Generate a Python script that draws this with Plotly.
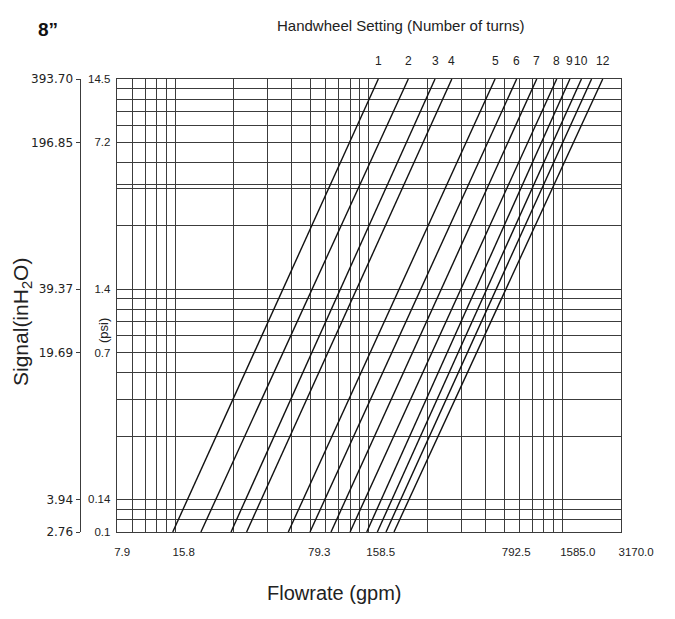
import math
import plotly.graph_objects as go

# ---------------- data ----------------
# underlying grid units: flow in L/s (x), signal in kPa (y)
turns = [1, 2, 3, 4, 5, 6, 7, 8, 9, 10, 11, 12]
turn_labels = ["1", "2", "3", "4", "5", "6", "7", "8", "9", "10", "", "12"]
signal_ends = [0.7, 100]                      # kPa at bottom / top of chart
flow_at_low = [0.973, 1.36, 1.945, 2.34, 3.84, 4.97, 6.38, 8.0, 9.75, 11.06, 12.26, 13.48]
flow_at_high = [11.19, 15.98, 21.95, 26.8, 44.8, 57.9, 73.5, 93.2, 109, 125, 141, 161]

grid_x = [0.5, 0.6, 0.7, 0.8, 0.9, 1, 2, 3, 4, 5, 6, 7, 8, 9, 10,
          20, 30, 40, 50, 60, 70, 80, 90, 100, 200]
grid_y = [0.7, 0.8, 0.9, 1, 2, 3, 4, 5, 6, 7, 8, 9, 10,
          20, 30, 31.5, 40, 50, 60, 70, 80, 90, 100]

x_tick_vals = [0.5, 1, 5, 10, 50, 100, 200]
x_tick_text = ["7.9", "15.8", "79.3", "158.5", "792.5", "1585.0", "3170.0"]

psi_vals = [100, 50, 10, 5, 1, 0.7]
psi_text = ["14.5", "7.2", "1.4", "0.7", "0.14", "0.1"]

inh2o_vals = [393.70, 196.85, 39.37, 19.69, 3.94, 2.76]
inh2o_text = ["393.70", "196.85", "39.37", "19.69", "3.94", "2.76"]

X_RANGE = (0.5, 200)
Y_RANGE = (0.7, 100)

# ---------------- figure ----------------
FONT = "Liberation Sans, Arial, sans-serif"
LINEC = "#3c3c3c"
TXT = "#222222"
fig = go.Figure()

for t, f0, f1 in zip(turns, flow_at_low, flow_at_high):
    fig.add_trace(go.Scatter(
        x=[f0, f1], y=signal_ends, mode="lines",
        line=dict(color="#111111", width=1.4),
        hoverinfo="skip", showlegend=False, name=f"turn {t}",
    ))

# invisible trace so the outer (inH2O) axis is drawn
fig.add_trace(go.Scatter(x=[1], y=[10], yaxis="y2",
                         mode="markers", marker=dict(opacity=0),
                         hoverinfo="skip", showlegend=False))

def tick_union(grid, vals, texts):
    lab = dict(zip(vals, texts))
    allv = sorted(set(grid) | set(vals))
    return allv, [lab.get(v, "") for v in allv]

xv, xt = tick_union(grid_x, x_tick_vals, x_tick_text)
yv, yt = tick_union(grid_y, psi_vals, psi_text)

eps = 1e-7
OFF = 8                      # page body margin
W, H = 675 - OFF, 619 - OFF
ML, MR, MT, MB = 2, 54, 71, 87
PW, PH = W - ML - MR, H - MT - MB

def px(xp):
    return (xp - OFF - ML) / PW

def py(yp):
    return (H - MB - (yp - OFF)) / PH

fig.update_layout(
    width=W, height=H,
    margin=dict(l=ML, r=MR, t=MT, b=MB, autoexpand=False),
    paper_bgcolor="white", plot_bgcolor="white",
    font=dict(family=FONT, color=TXT, size=11),
    xaxis=dict(
        type="log", domain=[px(116.7), 1],
        range=[math.log10(X_RANGE[0]) - eps, math.log10(X_RANGE[1]) + eps],
        tickmode="array", tickvals=xv, ticktext=xt,
        ticks="", showgrid=True, gridcolor=LINEC, gridwidth=1,
        showline=True, mirror=True, linecolor=LINEC, linewidth=1,
        zeroline=False, ticklabelposition="outside right", ticklabelshift=-3,
        tickfont=dict(size=11.5, color=TXT), ticklabelstandoff=9,
        anchor="y", automargin=False,
    ),
    yaxis=dict(
        type="log", domain=[0, 1],
        range=[math.log10(Y_RANGE[0]) - eps, math.log10(Y_RANGE[1]) + eps],
        tickmode="array", tickvals=yv, ticktext=yt,
        ticks="", showgrid=True, gridcolor=LINEC, gridwidth=1,
        showline=True, mirror=True, linecolor=LINEC, linewidth=1,
        zeroline=False, tickfont=dict(size=11.5, color=TXT),
        ticklabelstandoff=3, anchor="x", automargin=False,
    ),
    yaxis2=dict(
        type="log", overlaying="y",
        range=[math.log10(inh2o_vals[-1]) - eps, math.log10(inh2o_vals[0]) + eps],
        tickmode="array", tickvals=inh2o_vals, ticktext=inh2o_text,
        ticks="outside", ticklen=4, tickcolor=LINEC, tickwidth=1,
        showline=True, linecolor=LINEC, linewidth=1,
        showgrid=False, zeroline=False,
        anchor="free", position=px(79.5), side="left",
        tickfont=dict(family="DejaVu Sans, sans-serif", size=12, color=TXT),
        automargin=False,
    ),
)

def note(text, x, y, size, xref="paper", angle=0, color=TXT):
    return dict(text=text, x=x, y=y, xref=xref, yref="paper", showarrow=False,
                xanchor="center", yanchor="middle", textangle=angle,
                font=dict(size=size, color=color))

ann = [
    note("<b>8”</b>", px(48), py(30), 19, color="#111111"),
    note("Handwheel Setting (Number of turns)", px(401), py(25), 15),
]
for lab, f1 in zip(turn_labels, flow_at_high):
    if lab:
        ann.append(note(lab, math.log10(f1), py(61.5), 12, xref="x"))
ann += [
    note("(psi)", px(103), py(331), 13, angle=-90),
    note("Signal(inH<sub>2</sub>O)", px(22), py(322), 21, angle=-90),
    note("Flowrate (gpm)", px(334), py(593), 20),
]
fig.update_layout(annotations=ann)

fig.write_html("out.html")
